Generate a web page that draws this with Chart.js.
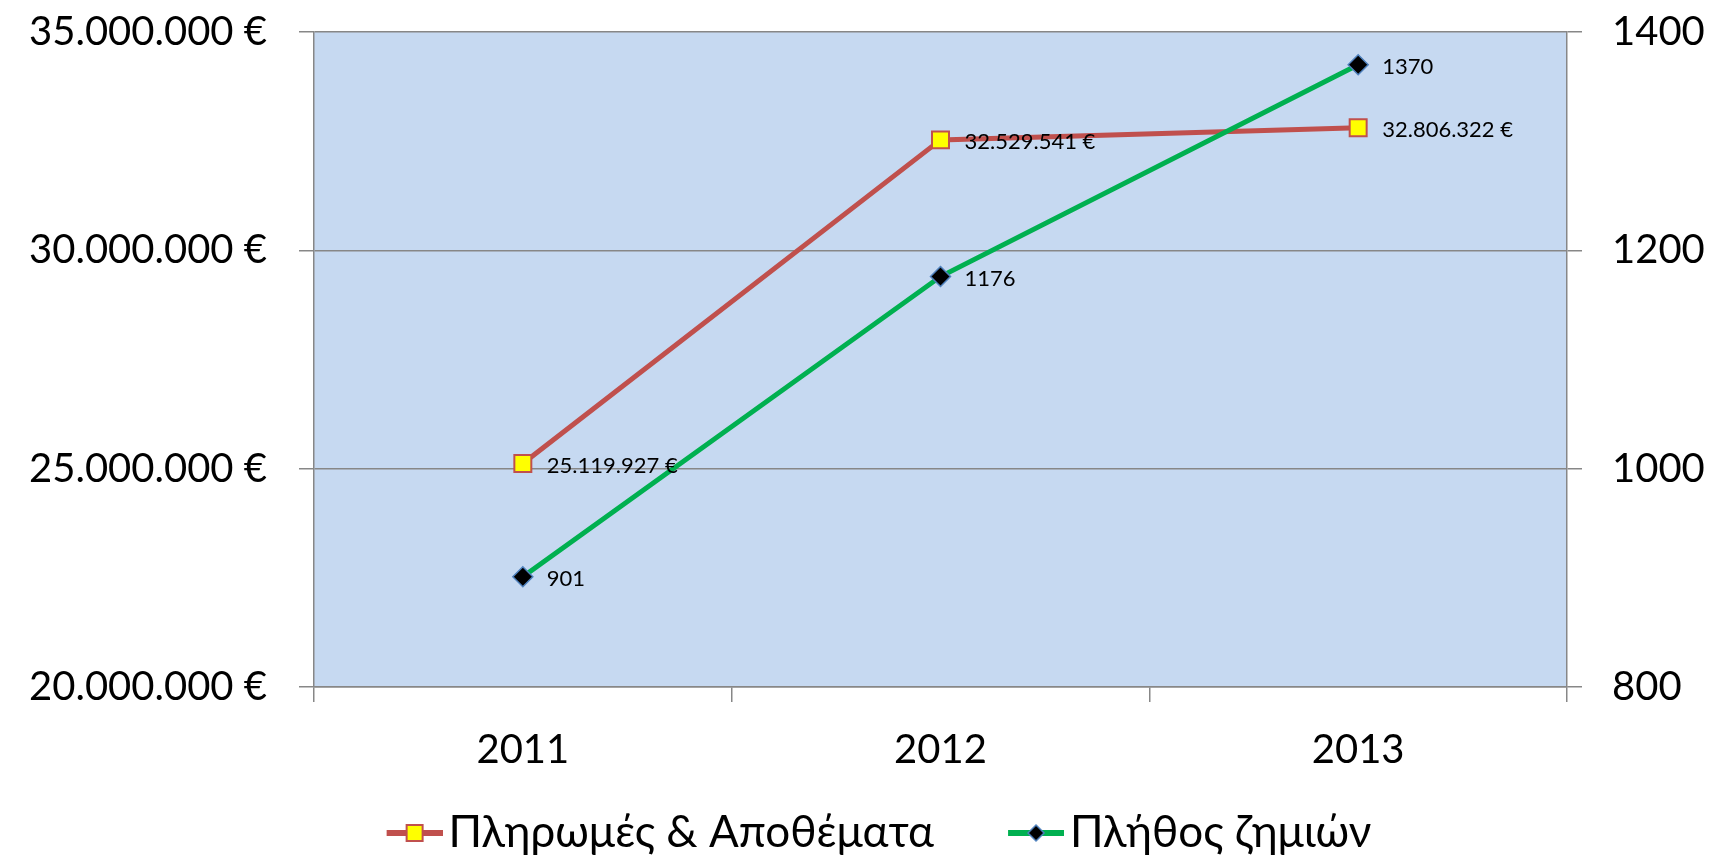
<!DOCTYPE html>
<html>
<head>
<meta charset="utf-8">
<script src="https://cdn.jsdelivr.net/npm/chart.js@4.4.0/dist/chart.umd.min.js"></script>
<style>
    html, body { margin: 0; padding: 0; background: #ffffff; }
</style>
</head>
<body>
<canvas id="myChart" width="1715" height="855"></canvas>
<script>
// δεδομένα του διαγράμματος
const years = ['2011', '2012', '2013'];
const seriesNames = ['Πληρωμές & Αποθέματα', 'Πλήθος ζημιών'];
const payments = [25119927, 32529541, 32806322];
const claims = [901, 1176, 1370];
const leftTicks = [20000000, 25000000, 30000000, 35000000];
const rightTicks = [800, 1000, 1200, 1400];

const FONT = 'Lato, "Open Sans", sans-serif';
const gridColor = '#878787';

// 12345678 -> "12.345.678"
function dotted(n) {
    return String(Math.round(n)).replace(/\B(?=(\d{3})+(?!\d))/g, '.');
}

// legend symbol: line with the marker in the middle (left part left empty on purpose)
function legendSymbol(lineColor, drawMarker) {
    const c = document.createElement('canvas');
    c.width = 115;
    c.height = 24;
    const g = c.getContext('2d');
    g.strokeStyle = lineColor;
    g.lineWidth = 6;
    g.beginPath();
    g.moveTo(59, 12);
    g.lineTo(115, 12);
    g.stroke();
    drawMarker(g, 87, 12);
    return c;
}

const redSymbol = legendSymbol('#C0504D', function (g, x, y) {
    g.fillStyle = '#FFFF00';
    g.strokeStyle = '#C0504D';
    g.lineWidth = 2;
    g.fillRect(x - 8, y - 8, 16, 16);
    g.strokeRect(x - 8, y - 8, 16, 16);
});

const greenSymbol = legendSymbol('#00B050', function (g, x, y) {
    g.fillStyle = '#000000';
    g.strokeStyle = '#4F81BD';
    g.lineWidth = 1.5;
    g.beginPath();
    g.moveTo(x, y - 8);
    g.lineTo(x + 8, y);
    g.lineTo(x, y + 8);
    g.lineTo(x - 8, y);
    g.closePath();
    g.fill();
    g.stroke();
});

// plot area background
const plotBackground = {
    id: 'plotBackground',
    beforeDraw(chart) {
        const a = chart.chartArea;
        const ctx = chart.ctx;
        ctx.save();
        ctx.fillStyle = '#C6D9F1';
        ctx.fillRect(a.left, a.top, a.right - a.left, a.bottom - a.top);
        ctx.restore();
    }
};

// value labels to the right of each point
const valueLabels = {
    id: 'valueLabels',
    afterDatasetsDraw(chart) {
        const ctx = chart.ctx;
        ctx.save();
        ctx.font = '22px ' + FONT;
        ctx.fillStyle = '#000000';
        ctx.textAlign = 'left';
        ctx.textBaseline = 'middle';
        chart.data.datasets.forEach(function (ds, i) {
            const meta = chart.getDatasetMeta(i);
            meta.data.forEach(function (pt, j) {
                const v = ds.data[j];
                const text = ds.yAxisID === 'yLeft' ? dotted(v) + ' €' : String(v);
                ctx.fillText(text, pt.x + 24, pt.y + 2);
            });
        });
        ctx.restore();
    }
};

const ctx = document.getElementById('myChart').getContext('2d');

const myChart = new Chart(ctx, {
    type: 'line',
    data: {
        labels: years,
        datasets: [
            {
                label: seriesNames[0],
                data: payments,
                yAxisID: 'yLeft',
                order: 2,
                borderColor: '#C0504D',
                borderWidth: 5,
                pointStyle: 'rect',
                pointRadius: 12,
                pointBackgroundColor: '#FFFF00',
                pointBorderColor: '#C0504D',
                pointBorderWidth: 2,
                tension: 0,
            },
            {
                label: seriesNames[1],
                data: claims,
                yAxisID: 'yRight',
                order: 1,
                borderColor: '#00B050',
                borderWidth: 5,
                pointStyle: 'rectRot',
                pointRadius: 10,
                pointBackgroundColor: '#000000',
                pointBorderColor: '#4F81BD',
                pointBorderWidth: 1.5,
                tension: 0,
            },
        ],
    },
    options: {
        responsive: false,
        animation: false,
        // legend sits a little lower than Chart.js allows by default
        layout: { padding: { top: 0, left: 0, right: 0, bottom: -10 } },
        plugins: {
            tooltip: { enabled: false },
            legend: {
                position: 'bottom',
                labels: {
                    usePointStyle: true,
                    pointStyleWidth: 83,
                    boxHeight: 24,
                    padding: 31,
                    color: '#000000',
                    font: { family: FONT, size: 44 },
                    sort: (a, b) => a.datasetIndex - b.datasetIndex,
                    generateLabels: function (chart) {
                        return chart.data.datasets.map(function (ds, i) {
                            return {
                                text: ds.label,
                                datasetIndex: i,
                                pointStyle: i === 0 ? redSymbol : greenSymbol,
                                fillStyle: ds.borderColor,
                                strokeStyle: ds.borderColor,
                                lineWidth: 0,
                                hidden: false,
                            };
                        });
                    },
                },
            },
        },
        scales: {
            x: {
                offset: true,
                afterFit: function (scale) { scale.height = 93; },
                grid: {
                    offset: true,
                    drawOnChartArea: false,
                    drawTicks: true,
                    tickLength: 15,
                    color: gridColor,
                    lineWidth: 1.5,
                },
                border: { color: gridColor, width: 1.5 },
                ticks: {
                    color: '#000000',
                    padding: 24,
                    font: { family: FONT, size: 40 },
                },
            },
            yLeft: {
                position: 'left',
                min: leftTicks[0],
                max: leftTicks[leftTicks.length - 1],
                afterBuildTicks: function (scale) {
                    scale.ticks = leftTicks.map(v => ({ value: v }));
                },
                afterFit: function (scale) {
                    scale.width = 314;
                    scale.paddingTop = 32;
                    scale.paddingBottom = 0;
                },
                grid: {
                    color: gridColor,
                    lineWidth: 1.5,
                    tickLength: 15,
                },
                border: { color: gridColor, width: 1.5 },
                ticks: {
                    color: '#000000',
                    padding: 32,
                    font: { family: FONT, size: 40 },
                    callback: v => dotted(v) + ' €',
                },
            },
            yRight: {
                position: 'right',
                min: rightTicks[0],
                max: rightTicks[rightTicks.length - 1],
                afterBuildTicks: function (scale) {
                    scale.ticks = rightTicks.map(v => ({ value: v }));
                },
                afterFit: function (scale) {
                    scale.width = 148;
                    scale.paddingTop = 32;
                    scale.paddingBottom = 0;
                },
                grid: {
                    drawOnChartArea: false,
                    color: gridColor,
                    lineWidth: 1.5,
                    tickLength: 15,
                },
                border: { color: gridColor, width: 1.5 },
                ticks: {
                    color: '#000000',
                    padding: 30,
                    font: { family: FONT, size: 40 },
                    callback: v => String(v),
                },
            },
        },
    },
    plugins: [plotBackground, valueLabels],
});
</script>
</body>
</html>
